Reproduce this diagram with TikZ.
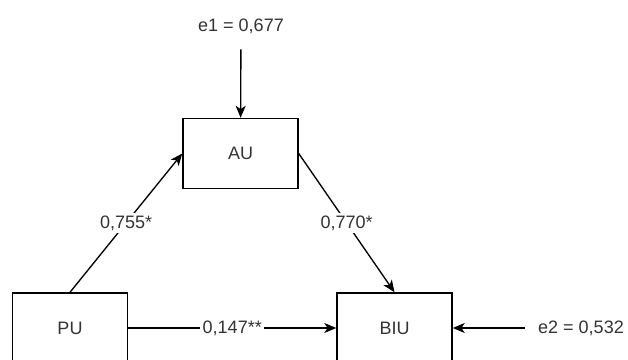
\documentclass[tikz,border=0pt]{standalone}
\usepackage{fontspec}
\setmainfont{Liberation Sans}
\usetikzlibrary{arrows.meta}
\begin{document}
\begin{tikzpicture}[x=0.75pt,y=-0.75pt,
  txt/.style={font=\fontsize{13.5}{16}\selectfont, text=black!80},
  box/.style={txt, draw=black, line width=1.1pt, minimum width=86.25pt, minimum height=52.5pt, inner sep=0pt},
  lbl/.style={txt, inner sep=0pt},
  elbl/.style={txt, fill=white, inner sep=2pt},
  arr/.style={draw=black, line width=1pt, -{Stealth[length=9pt,width=7.5pt,inset=2.5pt]}}
]
\useasboundingbox (0,0) rectangle (628,360);
\node[box] (AU) at (240.5,153.5) {AU};
\node[box] (PU) at (70,328) {PU};
\node[box] (BIU) at (394.5,328) {BIU};
\node[lbl, minimum height=34.5pt] (e1) at (241,26) {e1 = 0,677};
\node[lbl, minimum width=84pt] (e2) at (581,328) {e2 = 0,532};
\draw[arr] (e1) -- (AU);
\draw[arr] (e2) -- (BIU);
\draw[arr] (PU.north) -- node[elbl, midway] {0,755*} (AU.west);
\draw[arr] (AU.east) -- node[elbl, midway] {0,770*} (BIU.north);
\draw[arr] (PU) -- node[elbl, midway] {0,147**} (BIU);
\end{tikzpicture}
\end{document}
